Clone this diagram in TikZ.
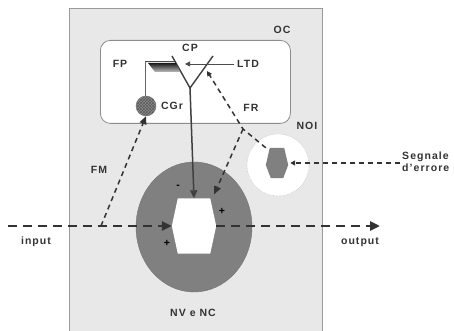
\documentclass[tikz,border=0pt]{standalone}
\usepackage{fontspec}
\setmainfont{Liberation Sans}
\usetikzlibrary{arrows.meta,shapes.geometric,patterns,calc}
\begin{document}
\begin{tikzpicture}[x=1pt,y=-1pt,
  lbl/.style={font=\fontsize{10.5}{12}\selectfont\bfseries\addfontfeature{LetterSpace=10}, inner sep=0pt, text=black!80},
  bigdash/.style={line width=2.8pt, dash pattern=on 9pt off 6pt, draw=black!80},
  smalldash/.style={line width=1.5pt, dash pattern=on 5pt off 4pt, draw=black!80},
  bigtip/.style={-{Triangle[length=10pt,width=9pt]}},
  midtip/.style={-{Triangle[length=8pt,width=7pt]}},
  smalltip/.style={-{Triangle[length=5pt,width=5pt]}},
  hexbox/.style={inner sep=0pt, draw=none},
]
\useasboundingbox (0,0) rectangle (454,331);
% outer OC box
\node[draw=black!40, fill=black!9, line width=0.8pt, minimum width=253pt, minimum height=323pt, anchor=north west, inner sep=0pt] (oc) at (69,8) {};
\node[lbl] (oclbl) at (282,30) {OC};
% cortex rounded box
\node[draw=black!45, fill=white, rounded corners=10pt, line width=0.8pt, minimum width=190pt, minimum height=83pt, anchor=north west, inner sep=0pt] (cortex) at (100,40) {};
% Purkinje Y
\coordinate (yl) at (172,56);
\coordinate (yr) at (213,56);
\coordinate (yv) at (190,88);
\draw[line width=1.4pt, black!75] (yl) -- (yv) -- (yr);
% FP
\coordinate (fpl) at (145,62);
\coordinate (fpr) at (175,62);
\shade[top color=black!90, bottom color=black!25] (148,63) -- (176,63) -- (180,72) -- (155,72) -- cycle;
\draw[line width=1pt, black!70] (fpl) -- (fpr);
% CGr
\node[circle, minimum size=20pt, fill=black!45, draw=black!60, inner sep=0pt] (cgr) at (146,106) {};
\fill[pattern=crosshatch, pattern color=black!65] (cgr.center) circle (9.5pt);
\draw[line width=0.7pt, black!60] (fpl) -- (fpl |- cgr.north);
% labels in cortex
\node[lbl] (cp) at (190,48) {CP};
\node[lbl] (fp) at (120,64) {FP};
\node[lbl] (ltd) at (248,64) {LTD};
\node[lbl] (cgrl) at (172,106) {CGr};
\node[lbl] (fr) at (251,108) {FR};
\draw[line width=0.8pt, black!70, smalltip] (ltd.west) ++(-3,0) -- (185,64);
% nuclei
\node[ellipse, minimum width=116pt, minimum height=130pt, fill=black!50, draw=black!55, inner sep=0pt] (nv) at (194,227) {};
\node[hexbox, minimum width=44pt, minimum height=55pt] (hex) at (194,226) {};
\fill[white] ([xshift=6pt]hex.north west) -- ([xshift=-6pt]hex.north east) -- (hex.east) -- ([xshift=-6pt]hex.south east) -- ([xshift=6pt]hex.south west) -- (hex.west) -- cycle;
\node[lbl] (nvl) at (193,313) {NV e NC};
% NOI
\node[circle, minimum size=62pt, fill=white, draw=black!35, densely dotted, inner sep=0pt] (noi) at (278,165) {};
\node[hexbox, minimum width=22pt, minimum height=30pt] (nhex) at (277,163) {};
\fill[black!50] ([xshift=4pt]nhex.north west) -- ([xshift=-4pt]nhex.north east) -- ([yshift=-2pt]nhex.east) -- ([xshift=-5pt]nhex.south east) -- ([xshift=5pt]nhex.south west) -- ([yshift=-2pt]nhex.west) -- cycle;
\node[lbl] (noil) at (307,126) {NOI};
% stem
\draw[line width=1.5pt, black!75, midtip] (yv) -- (hex.north);
% climbing fibre and collateral
\coordinate (br) at (243,129);
\draw[smalldash, smalltip] (nhex.north west) -- (br) -- (207,71);
\draw[smalldash, midtip] (br) -- ([xshift=-2pt,yshift=4pt]hex.north east);
% FM
\coordinate (fmb) at (101,226);
\draw[smalldash, midtip] (fmb) -- (cgr.south);
\node[lbl] (fm) at (99,170) {FM};
% input/output
\coordinate (in) at (8,226);
\coordinate (out) at (380,226);
\draw[bigdash, bigtip] (in) -- (hex.west);
\draw[bigdash, bigtip] (hex.east) -- (out);
\node[lbl] (inl) at (36,242) {input};
\node[lbl] (outl) at (360,242) {output};
% error signal
\coordinate (err) at (400,163);
\draw[smalldash, smalltip] (err) -- ([xshift=2pt]nhex.east);
\node[lbl, align=left, anchor=west] (errl) at (402,162) {Segnale\\d'errore};
% signs
\node[lbl, text=black] (m1) at (178,187) {-};
\node[lbl, text=black] (p1) at (222,211) {+};
\node[lbl, text=black] (p2) at (167,243) {+};
\end{tikzpicture}
\end{document}
